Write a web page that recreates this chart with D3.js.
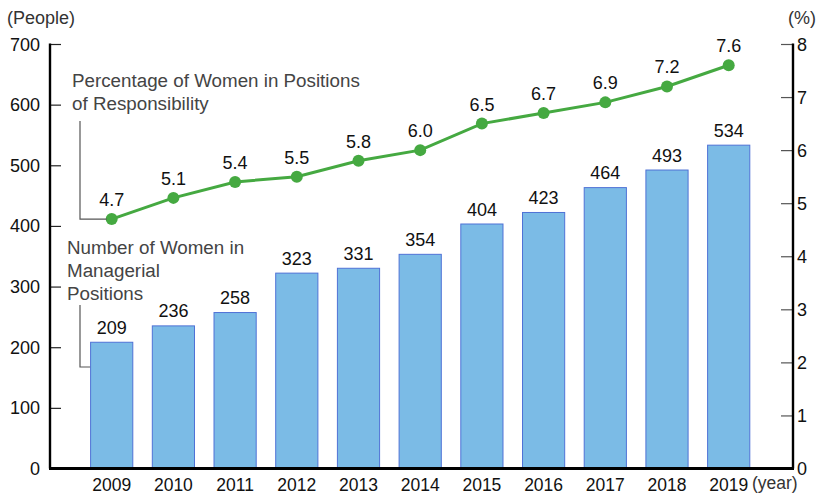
<!DOCTYPE html>
<html>
<head>
<meta charset="utf-8">
<script src="https://cdn.jsdelivr.net/npm/d3@7"></script>
<style>
  body { margin: 0; background: #fff; }
  svg { display: block; font-family: "Liberation Sans", Arial, Helvetica, sans-serif; }
</style>
</head>
<body>
<svg id="chart" width="819" height="495"></svg>
<script>
// Women in management, 2009–2019
const years = ["2009","2010","2011","2012","2013","2014","2015","2016","2017","2018","2019"];
const managers = [209, 236, 258, 323, 331, 354, 404, 423, 464, 493, 534];
const percentage = [4.7, 5.1, 5.4, 5.5, 5.8, 6.0, 6.5, 6.7, 6.9, 7.2, 7.6];
const leftTicks = [0, 100, 200, 300, 400, 500, 600, 700];
const rightTicks = [0, 1, 2, 3, 4, 5, 6, 7, 8];

const svg = d3.select("#chart");
const axisLeftX = 50, axisRightX = 793, baseY = 468.5, topY = 44;

const step = 61.7;
const x = d3.scaleBand()
  .domain(years)
  .range([axisLeftX + step * 0.5, axisLeftX + step * 11.5])
  .paddingInner(0.3)
  .paddingOuter(0.15);

const yL = d3.scaleLinear().domain([0, 700]).range([baseY, topY]);
const yR = d3.scaleLinear().domain([0, 8]).range([baseY, topY]);
const cx = d => x(d) + x.bandwidth() / 2;

const numSize = 18;

// Bars
svg.append("g").selectAll("rect")
  .data(years)
  .join("rect")
  .attr("x", d => x(d) + 0.5)
  .attr("y", (d, i) => yL(managers[i]) + 0.5)
  .attr("width", x.bandwidth() - 1)
  .attr("height", (d, i) => baseY - yL(managers[i]))
  .attr("fill", "#7bbbe6")
  .attr("stroke", "#4f72d6")
  .attr("stroke-width", 1);

// Bar value labels
svg.append("g").selectAll("text")
  .data(years)
  .join("text")
  .attr("x", d => cx(d))
  .attr("y", (d, i) => yL(managers[i]) - 8)
  .attr("text-anchor", "middle")
  .attr("font-size", numSize)
  .attr("fill", "#111")
  .text((d, i) => managers[i]);

// Left axis
const gL = svg.append("g").attr("transform", `translate(${axisLeftX},0)`)
  .call(d3.axisRight(yL).tickValues(leftTicks).tickSize(11).tickFormat(""));
gL.select(".domain").remove();
gL.selectAll(".tick line").attr("stroke", "#222").attr("stroke-width", 1.2);
svg.append("line").attr("x1", axisLeftX).attr("x2", axisLeftX)
  .attr("y1", topY - 0.6).attr("y2", baseY).attr("stroke", "#000").attr("stroke-width", 2.4);
svg.append("g").selectAll("text").data(leftTicks).join("text")
  .attr("x", 40).attr("y", d => yL(d) + 6.5)
  .attr("text-anchor", "end").attr("font-size", numSize).attr("fill", "#111")
  .text(d => d);

// Right axis
const gR = svg.append("g").attr("transform", `translate(${axisRightX},0)`)
  .call(d3.axisLeft(yR).tickValues(rightTicks).tickSize(12).tickFormat(""));
gR.select(".domain").remove();
gR.selectAll(".tick line").attr("stroke", "#555").attr("stroke-width", 1.2);
svg.append("line").attr("x1", axisRightX).attr("x2", axisRightX)
  .attr("y1", topY - 0.6).attr("y2", baseY).attr("stroke", "#000").attr("stroke-width", 2.4);
svg.append("g").selectAll("text").data(rightTicks).join("text")
  .attr("x", 797).attr("y", d => yR(d) + 6.5)
  .attr("text-anchor", "start").attr("font-size", numSize).attr("fill", "#111")
  .text(d => d);

// Baseline
svg.append("line").attr("x1", axisLeftX - 1).attr("x2", axisRightX + 1)
  .attr("y1", baseY).attr("y2", baseY).attr("stroke", "#000").attr("stroke-width", 3);

// Year labels
svg.append("g").selectAll("text").data(years).join("text")
  .attr("x", d => cx(d)).attr("y", 491)
  .attr("text-anchor", "middle").attr("font-size", 17.5).attr("fill", "#111")
  .text(d => d);

// Unit labels
svg.append("text").attr("x", 7).attr("y", 24).attr("font-size", 18).attr("fill", "#333").text("(People)");
svg.append("text").attr("x", 788).attr("y", 24).attr("font-size", 18).attr("fill", "#333").text("(%)");
svg.append("text").attr("x", 752).attr("y", 489).attr("font-size", 17.5).attr("fill", "#333").text("(year)");

// Percentage line
const line = d3.line().x((d, i) => cx(years[i])).y(d => yR(d));
svg.append("path").datum(percentage)
  .attr("d", line).attr("fill", "none")
  .attr("stroke", "#45a941").attr("stroke-width", 3);
svg.append("g").selectAll("circle").data(percentage).join("circle")
  .attr("cx", (d, i) => cx(years[i])).attr("cy", d => yR(d)).attr("r", 6)
  .attr("fill", "#45a941");
svg.append("g").selectAll("text").data(percentage).join("text")
  .attr("x", (d, i) => cx(years[i])).attr("y", d => yR(d) - 13)
  .attr("text-anchor", "middle").attr("font-size", numSize).attr("fill", "#111")
  .text(d => d.toFixed(1));

// Series annotations with leader lines
const note = svg.append("g").attr("font-size", 18.8).attr("fill", "#444");
note.append("text").attr("x", 72).attr("y", 87).text("Percentage of Women in Positions");
note.append("text").attr("x", 72).attr("y", 110).text("of Responsibility");
note.append("path")
  .attr("d", `M80,121 V${yR(percentage[0])} H${cx(years[0]) - 5}`)
  .attr("fill", "none").attr("stroke", "#555").attr("stroke-width", 1.2);

note.append("text").attr("x", 67).attr("y", 254).text("Number of Women in");
note.append("text").attr("x", 67).attr("y", 277).text("Managerial");
note.append("text").attr("x", 67).attr("y", 300).text("Positions");
note.append("path")
  .attr("d", `M80,305 V367 H${x(years[0])}`)
  .attr("fill", "none").attr("stroke", "#555").attr("stroke-width", 1.2);
</script>
</body>
</html>
